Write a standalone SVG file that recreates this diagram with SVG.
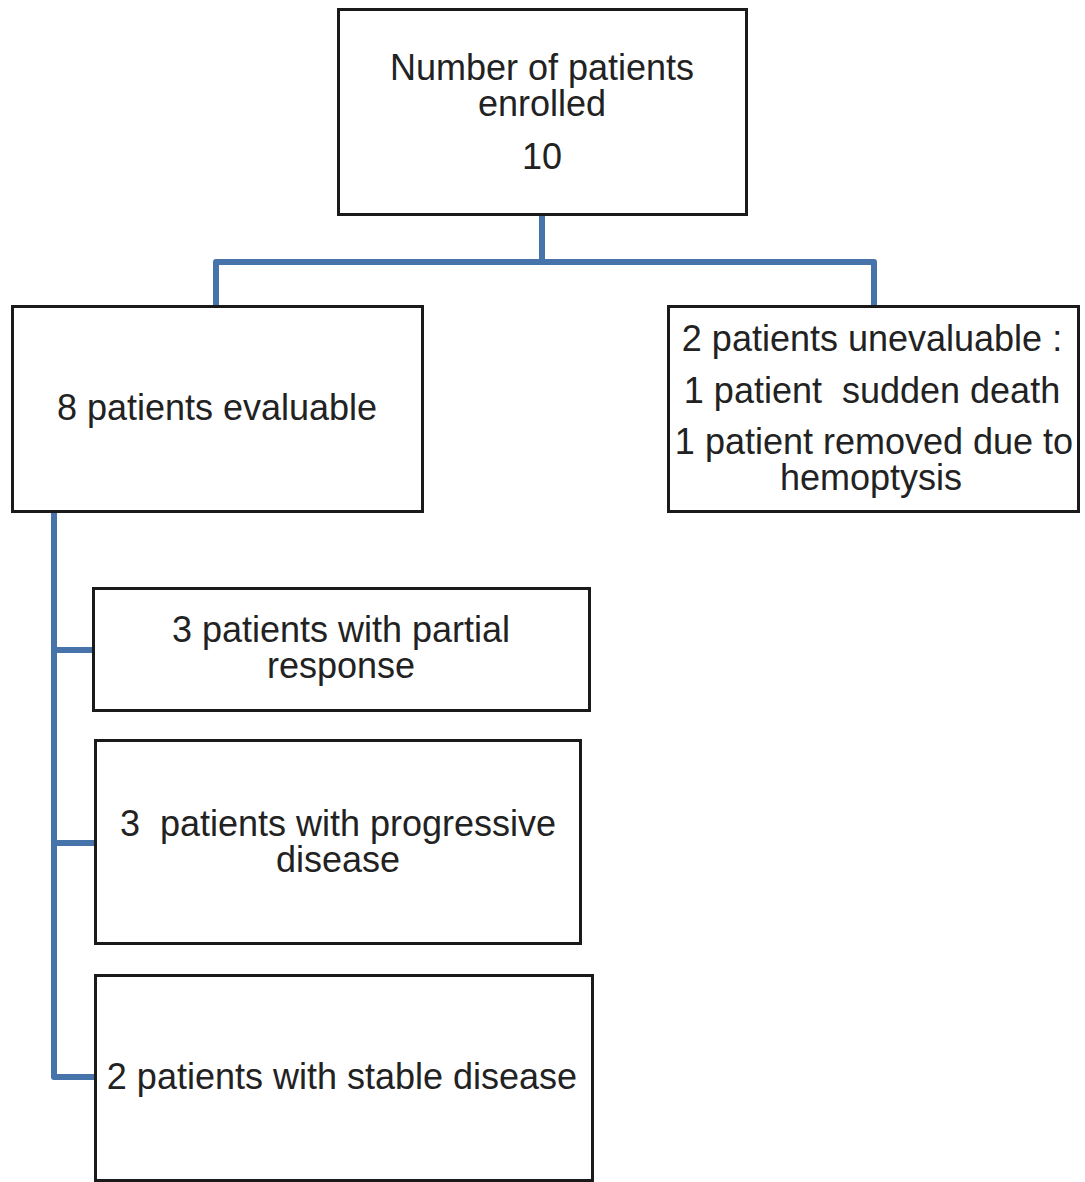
<svg xmlns="http://www.w3.org/2000/svg" width="1085" height="1182" viewBox="0 0 1085 1182">
<style>
.box{fill:#fff;stroke:#1a1a1a;stroke-width:3}
.t{font-family:"Liberation Sans",Arial,sans-serif;font-size:36px;fill:#222;text-anchor:middle;white-space:pre}
.c{fill:none;stroke:#4673aa;stroke-width:6;stroke-linejoin:round}
</style>
<rect width="1085" height="1182" fill="#fff"/>
<g id="connectors">
<path class="c" d="M542 214 V262 M216 306 V262 H874 V306"/>
<path class="c" d="M54 511 V1077 H95 M54 650 H93 M54 843 H95"/>
</g>
<g id="enrolled">
<rect class="box" x="338.5" y="9.5" width="408" height="205"/>
<text class="t" x="542" y="80">Number of patients</text>
<text class="t" x="542" y="116">enrolled</text>
<text class="t" x="542" y="169">10</text>
</g>
<g id="evaluable">
<rect class="box" x="12.5" y="306.5" width="410" height="205"/>
<text class="t" x="217" y="420">8 patients evaluable</text>
</g>
<g id="unevaluable">
<rect class="box" x="668.5" y="306.5" width="410" height="205"/>
<text class="t" x="872" y="351">2 patients unevaluable :</text>
<text class="t" x="872" y="403">1 patient  sudden death</text>
<text class="t" x="874" y="454">1 patient removed due to</text>
<text class="t" x="871" y="490">hemoptysis</text>
</g>
<g id="partial">
<rect class="box" x="93.5" y="588.5" width="496" height="122"/>
<text class="t" x="341" y="642">3 patients with partial</text>
<text class="t" x="341" y="678">response</text>
</g>
<g id="progressive">
<rect class="box" x="95.5" y="740.5" width="485" height="203"/>
<text class="t" x="338" y="836">3  patients with progressive</text>
<text class="t" x="338" y="872">disease</text>
</g>
<g id="stable">
<rect class="box" x="95.5" y="975.5" width="497" height="205"/>
<text class="t" x="342" y="1089">2 patients with stable disease</text>
</g>
</svg>
